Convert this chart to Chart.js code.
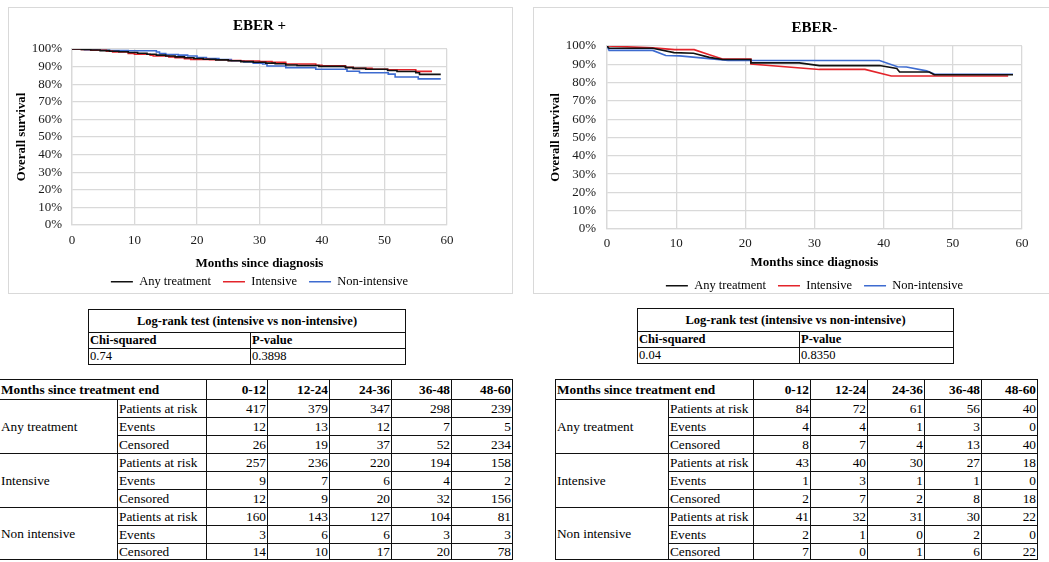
<!DOCTYPE html>
<html><head><meta charset="utf-8">
<script src="https://cdn.jsdelivr.net/npm/chart.js@4.4.1/dist/chart.umd.min.js"></script>
<style>
html,body{margin:0;padding:0;background:#fff;overflow:hidden;width:1049px;height:562px;}
body{position:relative;font-family:'Liberation Serif','Times New Roman',serif;color:#000;}
.panel{position:absolute;border:1px solid #d9d9d9;box-sizing:border-box;}
canvas{position:absolute;}
table{position:absolute;border-collapse:collapse;table-layout:fixed;}
td{border:1px solid #111;padding:0 1px;white-space:nowrap;overflow:hidden;vertical-align:middle;}
.lr td{font-size:12.5px;line-height:13px;}
.lr tr.h1{height:23px;}
.lr tr.h2{height:16px;}
.risk td{font-size:13.3px;line-height:14px;}
.risk tr{height:18px;}
.risk tr.hd{height:20px;}
.risk tr.last{height:16px;}
.b{font-weight:bold;}
.r{text-align:right;}
.c{text-align:center;}
</style>
</head><body>
<div class="panel" style="left:8px;top:7px;width:505px;height:287px;"></div>
<div class="panel" style="left:533px;top:7px;width:530px;height:287px;"></div>
<canvas id="c1" width="504" height="286" style="left:8px;top:7px;"></canvas>
<canvas id="c2" width="520" height="286" style="left:533px;top:7px;"></canvas>

<table class="lr" id="lr1" style="left:88px;top:309px;width:318px;"></table>
<table class="lr" id="lr2" style="left:637px;top:308px;width:317px;"></table>
<table class="risk" id="rt1" style="left:-1px;top:379px;"></table>
<table class="risk" id="rt2" style="left:555px;top:379px;"></table>

<script>
// ---------- tick values ----------
const xTickValues = [0, 10, 20, 30, 40, 50, 60];
const yTickValues = [0, 10, 20, 30, 40, 50, 60, 70, 80, 90, 100];
const seriesLabels = ['Any treatment', 'Intensive', 'Non-intensive'];

// ---------- EBER + (Kaplan-Meier steps: month, survival %) ----------
const posAnyMonths = [0,1.5,3,4.5,6,7.5,9,10.5,12,13.5,15,16.5,18,19.5,21,23,25,27,29,31,32.5,34.2,36,39.5,43.8,45,47,50.5,52,55,55.6,59];
const posAnySurv   = [100,99.7,99.4,99.1,98.7,98.4,98.0,97.6,97.0,96.5,96.0,95.5,95.0,94.6,94.2,93.8,93.3,92.8,92.5,92.0,91.6,90.9,90.6,90.1,89.4,89.0,88.5,87.8,87.2,86.5,85.6,85.6];
const posIntMonths = [0,1.5,3,5.5,6.5,9,10,12.5,13,15.5,16.5,18,19,22,25,27,30,32,34.2,39,40,43.7,45,48,50.5,55,57.6];
const posIntSurv   = [100,99.7,99.3,98.8,98.3,97.5,97.0,96.5,96.0,95.5,95.0,94.5,94.1,93.9,93.5,93.2,92.9,92.5,91.5,90.8,90.4,89.6,89.0,88.5,88.2,87.3,87.3];
const posNonMonths = [0,2,4,6,9,13.5,14,15,17,18.5,20,21.5,23.5,25.5,27.5,29,30.5,31.2,34.2,39,44,46,50.6,51.7,55.4,59];
const posNonSurv   = [100,99.6,99.3,99.1,99.0,98.3,97.4,96.9,96.5,96.0,95.2,94.6,94.0,93.3,92.6,91.9,91.5,90.3,89.4,88.5,87.4,86.5,85.7,84.1,83.0,83.0];

// ---------- EBER- (survival curve points: month, survival %) ----------
const negAnyMonths = [0,0.3,6.6,9.7,12.5,14.8,16.7,20.8,20.8,27.8,30.7,39.4,41.9,42.3,46.6,47.3,58.7];
const negAnySurv   = [100,98.8,98.8,96.4,96.0,93.8,92.6,92.6,90.8,90.8,89.3,89.3,87.7,85.8,85.8,84.3,84.3];
const negIntMonths = [0,6.6,9.8,12.6,14.8,16.7,20.8,20.8,30.7,37.3,41.1,58];
const negIntSurv   = [100,99.0,98.0,98.0,95.2,92.9,92.9,90.2,87.2,87.2,83.6,83.6];
const negNonMonths = [0,0.3,6.6,8.5,10.5,16.7,17.5,39.4,42,43.3,46.2,47.4,58.7];
const negNonSurv   = [100,97.6,97.6,94.8,94.6,92.4,92.1,92.1,88.7,88.5,86.4,84.6,84.6];

// ---------- log-rank tests ----------
const posLogRank = ['0.74', '0.3898'];
const negLogRank = ['0.04', '0.8350'];

// ---------- risk tables ----------
const intervals = ['0-12', '12-24', '24-36', '36-48', '48-60'];
const groups = ['Any treatment', 'Intensive', 'Non intensive'];
const rowLabels = ['Patients at risk', 'Events', 'Censored'];
const posAtRisk   = [[417,379,347,298,239],[257,236,220,194,158],[160,143,127,104,81]];
const posEvents   = [[12,13,12,7,5],[9,7,6,4,2],[3,6,6,3,3]];
const posCensored = [[26,19,37,52,234],[12,9,20,32,156],[14,10,17,20,78]];
const negAtRisk   = [[84,72,61,56,40],[43,40,30,27,18],[41,32,31,30,22]];
const negEvents   = [[4,4,1,3,0],[1,3,1,1,0],[2,1,0,2,0]];
const negCensored = [[8,7,4,13,40],[2,7,2,8,18],[7,0,1,6,22]];

const colors = ['#111111', '#e3242b', '#3d6bd0'];

Chart.defaults.font.family = "'Liberation Serif','Times New Roman',serif";
Chart.defaults.color = '#000';

function makeChart(id, title, xs, ys, stepped, g) {
  const datasets = seriesLabels.map((lab, i) => ({
    label: lab,
    data: xs[i].map((x, k) => ({x: x, y: ys[i][k]})),
    borderColor: colors[i],
    backgroundColor: colors[i],
    borderWidth: 1.6,
    pointRadius: 0,
    pointHoverRadius: 0,
    stepped: stepped,
    tension: 0,
    fill: false
  }));
  new Chart(document.getElementById(id), {
    type: 'line',
    data: {datasets: datasets},
    options: {
      responsive: false,
      animation: false,
      events: [],
      layout: {padding: {left: 0, right: g.padRight, top: 0, bottom: g.padBottom}},
      plugins: {
        tooltip: {enabled: false},
        title: {
          display: true, text: title, fullSize: false, color: '#000',
          font: {size: 15, weight: 'bold'},
          padding: {top: g.titleTop, bottom: g.titleBottom}
        },
        legend: {
          position: 'bottom', fullSize: false,
          labels: {
            usePointStyle: true, pointStyle: 'line', pointStyleWidth: 22,
            color: '#000', font: {size: 12.5}, padding: 12
          }
        }
      },
      scales: {
        x: {
          type: 'linear', min: 0, max: 60,
          afterBuildTicks: s => { s.ticks = xTickValues.map(v => ({value: v})); },
          afterFit: s => { s.height = g.xHeight; },
          grid: {color: '#d9d9d9', lineWidth: 1.3, drawTicks: false},
          border: {display: true, color: '#d9d9d9', width: 1.3},
          ticks: {autoSkip: false, maxRotation: 0, padding: g.xTickPad, color: '#1a1a1a', font: {size: 13}},
          title: {display: true, text: 'Months since diagnosis', color: '#000',
                  font: {size: 13, weight: 'bold'}, padding: {top: 0, bottom: g.xTitlePad}}
        },
        y: {
          min: 0, max: 100,
          afterBuildTicks: s => { s.ticks = yTickValues.map(v => ({value: v})); },
          afterFit: s => { s.width = g.yWidth; },
          grid: {color: '#d9d9d9', lineWidth: 1.3, drawTicks: false},
          border: {display: true, color: '#d9d9d9', width: 1.3},
          ticks: {autoSkip: false, padding: g.yTickPad, color: '#1a1a1a', font: {size: 13}, callback: v => v + '%'},
          title: {display: true, text: 'Overall survival', color: '#000',
                  font: {size: 12.8, weight: 'bold'}, padding: {top: g.yTitlePad, bottom: 0}}
        }
      }
    }
  });
}

makeChart('c1', 'EBER +',
  [posAnyMonths, posIntMonths, posNonMonths], [posAnySurv, posIntSurv, posNonSurv], true,
  {padRight: 65, padBottom: -5, titleTop: 10, titleBottom: 14, xHeight: 38.5, xTickPad: 8.2,
   xTitlePad: -7.5, yWidth: 64, yTickPad: 10, yTitlePad: 6});

makeChart('c2', 'EBER-',
  [negAnyMonths, negIntMonths, negNonMonths], [negAnySurv, negIntSurv, negNonSurv], false,
  {padRight: 31, padBottom: -9, titleTop: 12, titleBottom: 9, xHeight: 38.5, xTickPad: 7.2,
   xTitlePad: -2.5, yWidth: 74, yTickPad: 11, yTitlePad: 15.5});

function logRankTable(id, vals, w1) {
  document.getElementById(id).innerHTML =
    `<colgroup><col style="width:${w1}px"><col></colgroup>` +
    `<tr class="h1"><td colspan="2" class="b c">Log-rank test (intensive vs non-intensive)</td></tr>` +
    `<tr class="h2"><td class="b">Chi-squared</td><td class="b">P-value</td></tr>` +
    `<tr class="h2"><td>${vals[0]}</td><td>${vals[1]}</td></tr>`;
}
logRankTable('lr1', posLogRank, 162);
logRankTable('lr2', negLogRank, 162);

function riskTable(id, atRisk, events, censored, widths) {
  const el = document.getElementById(id);
  el.style.width = widths.reduce((a, b) => a + b, 0) + 'px';
  let html = '<colgroup>' + widths.map(w => `<col style="width:${w}px">`).join('') + '</colgroup>';
  html += '<tr class="hd"><td colspan="2" class="b">Months since treatment end</td>' +
          intervals.map(t => `<td class="b r">${t}</td>`).join('') + '</tr>';
  groups.forEach((grp, gi) => {
    [atRisk[gi], events[gi], censored[gi]].forEach((vals, ri) => {
      const last = (gi === groups.length - 1 && ri === 2) ? ' class="last"' : '';
      html += `<tr${last}>`;
      if (ri === 0) html += `<td rowspan="3">${grp}</td>`;
      html += `<td>${rowLabels[ri]}</td>` + vals.map(v => `<td class="r">${v}</td>`).join('') + '</tr>';
    });
  });
  el.innerHTML = html;
}
riskTable('rt1', posAtRisk, posEvents, posCensored, [118, 89, 61, 62, 62, 60, 61]);
riskTable('rt2', negAtRisk, negEvents, negCensored, [113, 85, 57, 57, 57, 57, 56]);
</script>
</body></html>
